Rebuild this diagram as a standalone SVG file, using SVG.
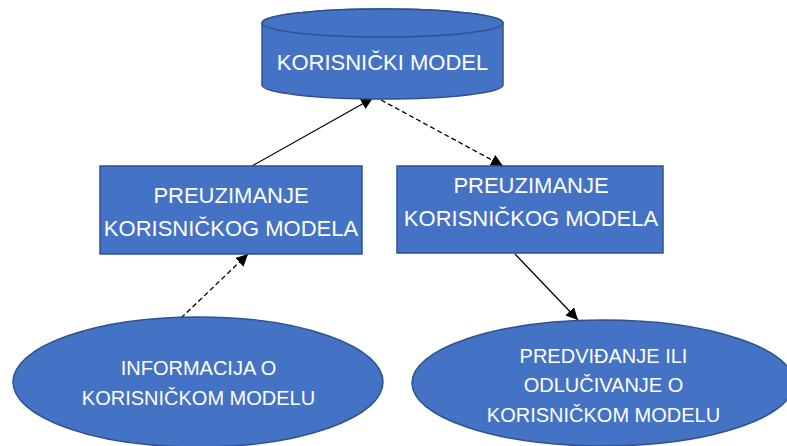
<svg xmlns="http://www.w3.org/2000/svg" width="787" height="446" viewBox="0 0 787 446">
  <defs>
    <marker id="arrow" markerUnits="userSpaceOnUse" markerWidth="13" markerHeight="13" refX="12" refY="6" orient="auto">
      <path d="M0,0 L12,6 L0,12 Z" fill="#000"/>
    </marker>
    <style>
      .shape { fill: #4472C4; stroke: #2F528F; stroke-width: 1.5; }
      .label { fill: #FFFFFF; font-family: "Liberation Sans", Arial, sans-serif; text-anchor: middle; }
      .big { font-size: 22px; }
      .small { font-size: 20px; }
      .conn { stroke: #000; stroke-width: 1.3; fill: none; marker-end: url(#arrow); }
      .dash { stroke-dasharray: 5 3; }
    </style>
  </defs>
  <rect width="787" height="446" fill="#FFFFFF"/>

  <g id="connectors">
    <line class="conn" x1="252" y1="166" x2="373" y2="98"/>
    <line class="conn dash" x1="381" y1="100" x2="503" y2="166"/>
    <line class="conn dash" x1="181" y1="318" x2="248" y2="254"/>
    <line class="conn" x1="515" y1="254" x2="578" y2="320"/>
  </g>

  <g id="korisnicki-model">
    <path class="shape" d="M262,23 L262,85 A120.5,14 0 0 0 503,85 L503,23 A120.5,14 0 0 0 262,23 Z"/>
    <ellipse class="shape" cx="382.5" cy="23" rx="120.5" ry="14"/>
    <text class="label big" x="382.5" y="70">KORISNIČKI MODEL</text>
  </g>

  <g id="preuzimanje-left">
    <rect class="shape" x="100" y="166" width="262" height="88"/>
    <text class="label big" x="231" y="203">PREUZIMANJE</text>
    <text class="label big" x="231" y="236">KORISNIČKOG MODELA</text>
  </g>

  <g id="preuzimanje-right">
    <rect class="shape" x="397" y="166" width="266" height="87"/>
    <text class="label big" x="531" y="193">PREUZIMANJE</text>
    <text class="label big" x="531" y="226">KORISNIČKOG MODELA</text>
  </g>

  <g id="informacija">
    <ellipse class="shape" cx="198" cy="382" rx="185" ry="65"/>
    <text class="label small" x="198.5" y="375">INFORMACIJA O</text>
    <text class="label small" x="198.5" y="405">KORISNIČKOM MODELU</text>
  </g>

  <g id="predvidjanje">
    <ellipse class="shape" cx="603" cy="383" rx="191" ry="63"/>
    <text class="label small" x="603.5" y="363">PREDVIĐANJE ILI</text>
    <text class="label small" x="603.5" y="392">ODLUČIVANJE O</text>
    <text class="label small" x="603.5" y="422">KORISNIČKOM MODELU</text>
  </g>
</svg>
